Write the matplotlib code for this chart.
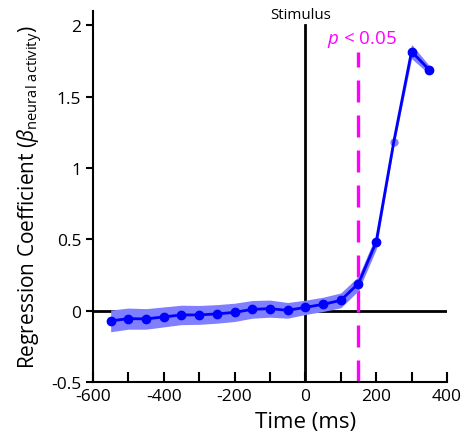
import matplotlib
matplotlib.use("Agg")
import matplotlib.pyplot as plt
import numpy as np

plt.rcParams['font.family'] = ['Open Sans', 'DejaVu Sans']
plt.rcParams['mathtext.fontset'] = 'custom'
plt.rcParams['mathtext.rm'] = 'Open Sans'
plt.rcParams['mathtext.it'] = 'Open Sans:italic'

time_ms = [-550, -500, -450, -400, -350, -300, -250, -200, -150, -100,
           -50, 0, 50, 100, 150, 200, 250, 300, 350]
beta = [-0.072, -0.056, -0.058, -0.044, -0.030, -0.030, -0.023, -0.012, 0.009, 0.014,
        0.002, 0.023, 0.044, 0.072, 0.19, 0.48, 1.185, 1.816, 1.688]
err = [0.076, 0.074, 0.072, 0.070, 0.068, 0.066, 0.065, 0.064, 0.062, 0.060,
       0.055, 0.050, 0.050, 0.052, 0.050, 0.050, 0.03, 0.05, 0.03]
sig_time = 150
stim_time = 0

t = np.array(time_ms)
b = np.array(beta)
e = np.array(err)

fig = plt.figure(figsize=(4.68, 4.39), dpi=100)
ax = fig.add_axes([0.1987, 0.1276, 0.7563, 0.8451])

ax.axhline(0, color='black', lw=2, zorder=1)
ax.plot([stim_time, stim_time], [-0.5, 2.0], color='black', lw=2, zorder=1)
ax.plot([sig_time, sig_time], [-0.5, 1.81], color='#ff00ff', lw=2.4,
        dashes=(6.6, 3.9), zorder=2, solid_capstyle='butt', dash_capstyle='butt')

ax.fill_between(t, b - e, b + e, color='#7f7fff', lw=0, zorder=3)
mask = t != 250
ax.plot(t, b, color='#0000ff', lw=2, zorder=4)
ax.plot(t[mask], b[mask], 'o', color='#0000ff', ms=6, zorder=5)
ax.plot(t[~mask], b[~mask], 'o', color='#8080ff', ms=5, zorder=3.5)

ax.text(stim_time - 12, 2.075, 'Stimulus', ha='center', va='center', fontsize=10.8)
ax.text(160, 1.905, r'$\mathit{p}$ < 0.05', color='#ff00ff', ha='center',
        va='center', fontsize=13.5)

ax.set_xlim(-600, 400)
ax.set_ylim(-0.5, 2.1)
ax.set_xticks([-600, -400, -200, 0, 200, 400])
ax.set_xticks([-500, -300, -100, 100, 300], minor=True)
ax.set_yticks([-0.5, 0, 0.5, 1, 1.5, 2])
ax.set_yticklabels(['-0.5', '0', '0.5', '1', '1.5', '2'])
ax.set_xticklabels(['-600', '-400', '-200', '0', '200', '400'])
ax.tick_params(axis='x', which='both', direction='in', length=7, width=1.5,
               labelsize=12.5, pad=4)
ax.tick_params(axis='y', direction='out', length=5, width=1.5, labelsize=12.5)
for s in ['top', 'right']:
    ax.spines[s].set_visible(False)
for s in ['left', 'bottom']:
    ax.spines[s].set_linewidth(1.5)

ax.set_xlabel('Time (ms)', fontsize=16, va='center')
ax.xaxis.set_label_coords(0.6, -(423 - 383) / (383 - 12))
ax.set_ylabel(r'Regression Coefficient ($\mathit{\beta}_{\mathrm{neural\ activity}}$)',
              fontsize=15, labelpad=4)

fig.savefig('out.png', dpi=100)
